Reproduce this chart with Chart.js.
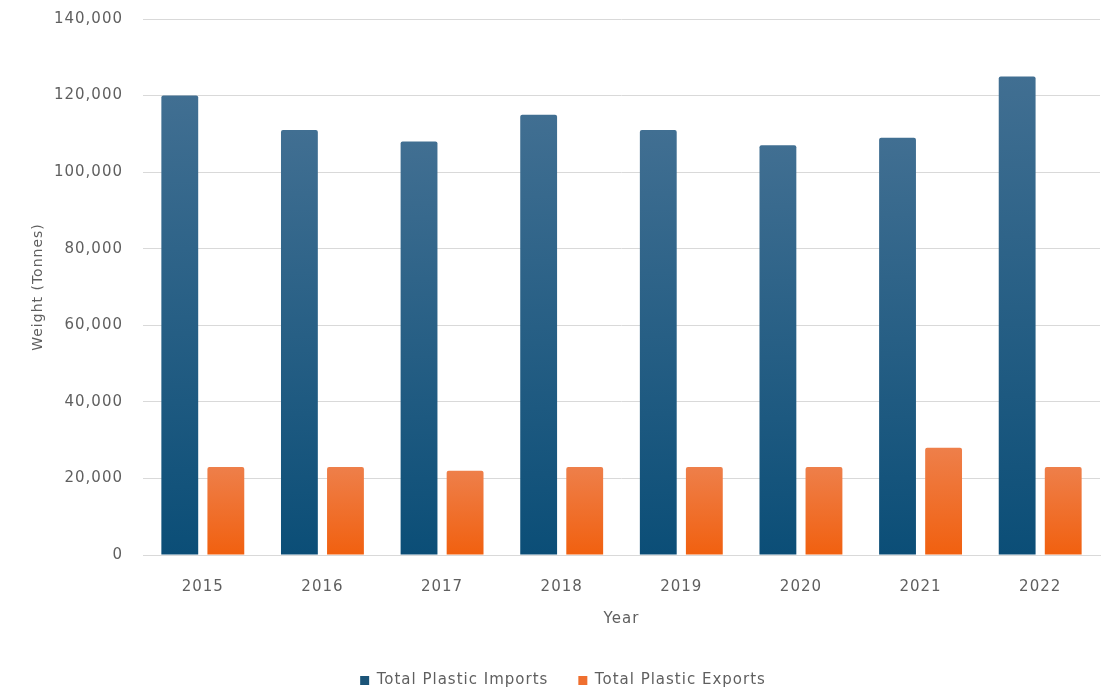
<!DOCTYPE html>
<html>
<head>
<meta charset="utf-8">
<script src="https://cdn.jsdelivr.net/npm/chart.js@4.4.1/dist/chart.umd.min.js"></script>
<style>
  html, body { margin: 0; padding: 0; background: #ffffff; }
  #wrap { width: 1106px; height: 690px; }
</style>
</head>
<body>
<div id="wrap"><canvas id="plasticChart" width="1106" height="690"></canvas></div>
<script>
// Données : importations et exportations de plastique (tonnes)
const years = ['2015', '2016', '2017', '2018', '2019', '2020', '2021', '2022'];
const imports = [120000, 111000, 108000, 115000, 111000, 107000, 109000, 125000];
const exports = [23000, 23000, 22000, 23000, 23000, 23000, 28000, 23000];
const yTicks = [0, 20000, 40000, 60000, 80000, 100000, 120000, 140000];

const textColor = '#5f5f5f';
const fontFamily = "'DejaVu Sans', sans-serif";

// Dégradé vertical par barre (clair en haut, foncé en bas)
function barGradient(top, bottom) {
  return function (context) {
    const chart = context.chart;
    const y = chart.scales.y;
    if (!y || context.parsed === undefined) return bottom;
    const yTop = y.getPixelForValue(context.parsed.y);
    const yBase = y.getPixelForValue(0);
    const g = chart.ctx.createLinearGradient(0, yTop, 0, yBase);
    g.addColorStop(0, top);
    g.addColorStop(1, bottom);
    return g;
  };
}

// Espacement des lettres + hauteur fixe de la légende (collée en bas)
const tweaksPlugin = {
  id: 'tweaks',
  beforeUpdate: (chart) => {
    chart.ctx.letterSpacing = '1px';
    const legend = chart.legend;
    if (legend && !legend._fitPatched) {
      const fit = legend.fit;
      legend.fit = function () {
        fit.call(this);
        this.height = 47;
      };
      legend._fitPatched = true;
    }
  },
  beforeDraw: (chart) => { chart.ctx.letterSpacing = '1px'; },
};

const ctx = document.getElementById('plasticChart').getContext('2d');
const plasticChart = new Chart(ctx, {
  type: 'bar',
  plugins: [tweaksPlugin],
  data: {
    labels: years,
    datasets: [
      {
        label: 'Total Plastic Imports',
        data: imports,
        backgroundColor: barGradient('#416f92', '#0b4e77'),
        borderRadius: 2,
        borderSkipped: 'bottom',
      },
      {
        label: 'Total Plastic Exports',
        data: exports,
        backgroundColor: barGradient('#ee7f4a', '#f1600f'),
        borderRadius: 2,
        borderSkipped: 'bottom',
      },
    ],
  },
  options: {
    responsive: false,
    animation: false,
    categoryPercentage: 0.77,
    barPercentage: 0.8,
    layout: { autoPadding: false, padding: { top: 19, right: 6, left: 26, bottom: 0 } },
    plugins: {
      legend: {
        display: true,
        position: 'bottom',
        labels: {
          color: textColor,
          font: { family: fontFamily, size: 15 },
          boxWidth: 9,
          boxHeight: 9,
          padding: 30,
          generateLabels: function (chart) {
            const cols = ['#1b5478', '#ef6f2f'];
            return chart.data.datasets.map((ds, i) => ({
              text: ds.label,
              fillStyle: cols[i],
              strokeStyle: cols[i],
              lineWidth: 0,
              fontColor: textColor,
              datasetIndex: i,
            }));
          },
        },
      },
      tooltip: { enabled: false },
    },
    scales: {
      x: {
        grid: { display: false },
        border: { display: true, color: '#d9d9d9' },
        ticks: { color: textColor, font: { family: fontFamily, size: 15 }, padding: 15 },
        title: {
          display: true,
          text: 'Year',
          color: textColor,
          font: { family: fontFamily, size: 15 },
          padding: { top: 0, bottom: 15 },
        },
        afterFit: (scale) => { scale.height = 88; },
      },
      y: {
        min: 0,
        max: 140000,
        afterBuildTicks: (scale) => { scale.ticks = yTicks.map(v => ({ value: v })); },
        grid: { color: '#d9d9d9', drawTicks: false },
        border: { display: false },
        ticks: {
          color: textColor,
          font: { family: fontFamily, size: 15 },
          padding: 20,
          callback: (v) => v.toLocaleString('en-US'),
        },
        title: {
          display: true,
          text: 'Weight (Tonnes)',
          color: textColor,
          font: { family: fontFamily, size: 14 },
        },
        afterFit: (scale) => {
          scale.width = 117;
          scale.paddingTop = 0;
          scale.paddingBottom = 0;
        },
      },
    },
  },
});
</script>
</body>
</html>
